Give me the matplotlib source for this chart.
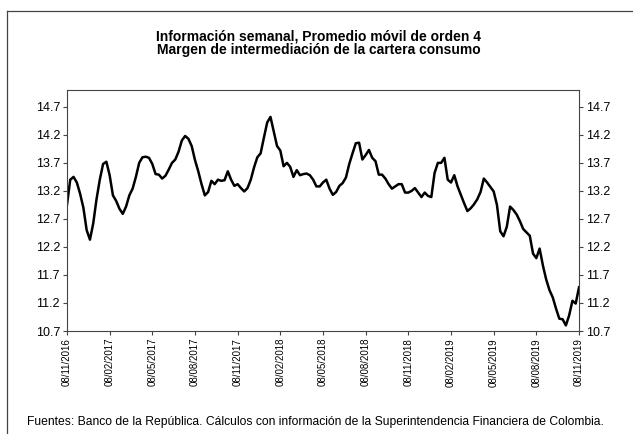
import matplotlib
matplotlib.use("Agg")
import matplotlib.pyplot as plt
from matplotlib.lines import Line2D
import numpy as np

plt.rcParams["font.family"] = ["Liberation Sans", "DejaVu Sans"]

# weekly 4-week moving average, 08/11/2016 .. 08/11/2019
margen = [
    12.95, 13.40, 13.45, 13.35, 13.15, 12.90, 12.50, 12.33, 12.62, 13.05,
    13.40, 13.68, 13.72, 13.48, 13.12, 13.02, 12.88, 12.79, 12.92, 13.12,
    13.24, 13.45, 13.70, 13.80, 13.81, 13.79, 13.68, 13.50, 13.49, 13.42,
    13.47, 13.58, 13.70, 13.76, 13.90, 14.10, 14.18, 14.13, 14.00, 13.75,
    13.55, 13.32, 13.12, 13.18, 13.38, 13.32, 13.40, 13.38, 13.39, 13.55,
    13.40, 13.29, 13.32, 13.25, 13.19, 13.25, 13.40, 13.62, 13.80, 13.87,
    14.15, 14.42, 14.52, 14.26, 14.00, 13.92, 13.64, 13.70, 13.63, 13.45,
    13.57, 13.48, 13.50, 13.51, 13.48, 13.40, 13.28, 13.28, 13.35, 13.40,
    13.24, 13.13, 13.18, 13.29, 13.34, 13.44, 13.68, 13.87, 14.05, 14.06,
    13.76, 13.84, 13.93, 13.79, 13.73, 13.49, 13.49, 13.42, 13.32, 13.24,
    13.28, 13.32, 13.32, 13.17, 13.17, 13.20, 13.25, 13.17, 13.09, 13.17,
    13.11, 13.09, 13.52, 13.70, 13.70, 13.79, 13.40, 13.35, 13.48, 13.28,
    13.13, 12.98, 12.84, 12.89, 12.96, 13.05, 13.18, 13.42, 13.35, 13.27,
    13.19, 12.95, 12.48, 12.39, 12.56, 12.92, 12.86, 12.78, 12.66, 12.52,
    12.46, 12.40, 12.08, 12.00, 12.17, 11.87, 11.62, 11.43, 11.30, 11.10,
    10.92, 10.91, 10.80, 10.98, 11.24, 11.19, 11.48,
]

fechas = [
    "08/11/2016", "08/02/2017", "08/05/2017", "08/08/2017", "08/11/2017",
    "08/02/2018", "08/05/2018", "08/08/2018", "08/11/2018", "08/02/2019",
    "08/05/2019", "08/08/2019", "08/11/2019",
]
y_ticks = [10.7, 11.2, 11.7, 12.2, 12.7, 13.2, 13.7, 14.2, 14.7]

fig = plt.figure(figsize=(6.33, 4.34), dpi=100)
ax = fig.add_axes([0.1058, 0.2373, 0.8089, 0.5553])

semanas = np.arange(len(margen))
ax.plot(semanas, margen, color="black", linewidth=1.8)

ax.set_xlim(0, len(margen) - 1)
ax.set_ylim(10.7, 15.0)
ax.set_xticks(np.arange(0, len(margen), 13))
ax.set_xticklabels(fechas, rotation=90, fontsize=7)
ax.set_yticks(y_ticks)
ax.set_yticklabels([f"{v:.1f}" for v in y_ticks], fontsize=9)
ax.tick_params(axis="both", direction="out", length=3, width=0.8,
               color="#444444", pad=2)
ax.tick_params(axis="y", labelleft=True, labelright=True, left=True, right=True)
for s in ax.spines.values():
    s.set_color("#444444")
    s.set_linewidth(0.8)

fig.text(0.503, 0.917, "Información semanal, Promedio móvil de orden 4",
         ha="center", va="center", fontsize=10, fontweight="bold")
fig.text(0.503, 0.884, "Margen de intermediación de la cartera consumo",
         ha="center", va="center", fontsize=10, fontweight="bold")
fig.text(27 / 633, 0.028,
         "Fuentes: Banco de la República. Cálculos con información de la "
         "Superintendencia Financiera de Colombia.",
         ha="left", va="center", fontsize=8.7)

# outer frame (top and left edges only visible)
fig.add_artist(Line2D([7 / 633, 1.0], [1 - 10.5 / 434] * 2,
                      color="#444444", linewidth=0.9))
fig.add_artist(Line2D([7 / 633] * 2, [0.0, 1 - 10.5 / 434],
                      color="#444444", linewidth=0.9))

fig.savefig("out.png", dpi=100)
